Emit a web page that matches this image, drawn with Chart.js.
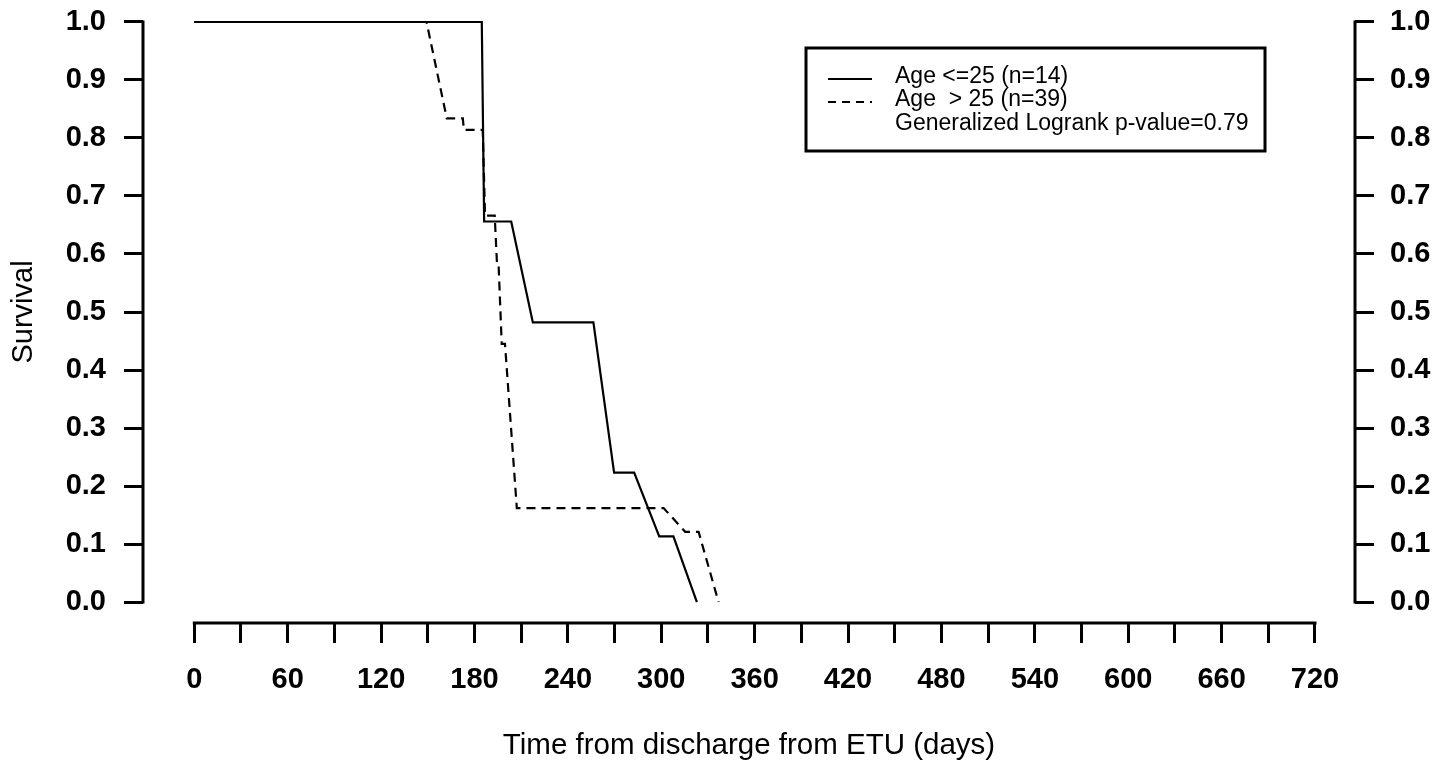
<!DOCTYPE html>
<html>
<head>
<meta charset="utf-8">
<title>Survival by age</title>
<script src="https://cdn.jsdelivr.net/npm/chart.js@4.4.1/dist/chart.umd.min.js"></script>
<style>
  html, body { margin: 0; padding: 0; background: #fff; }
  #wrap { width: 1451px; height: 767px; }
</style>
</head>
<body>
<div id="wrap">
  <canvas id="survivalCanvas" width="1451" height="767"></canvas>
</div>
<script>
// Age <= 25 (solid)
const youngDays = [0, 184.7, 186.2, 203.6, 217.5, 256.4, 269.7, 282.6, 298.7, 307.8, 322.9];
const youngSurv = [1.0, 1.0, 0.656, 0.656, 0.482, 0.482, 0.223, 0.223, 0.113, 0.113, 0.0];

// Age > 25 (dashed)
const olderDays = [0, 149.2, 162.2, 172.5, 173.2, 185.3, 186.8, 193.0, 194.5, 195.5, 197.5, 199.6, 207.2, 301.5, 315.4, 324.0, 336.8];
const olderSurv = [1.0, 1.0, 0.834, 0.834, 0.814, 0.814, 0.666, 0.666, 0.581, 0.581, 0.445, 0.445, 0.162, 0.162, 0.121, 0.121, 0.0];

const xTickValues = [0, 30, 60, 90, 120, 150, 180, 210, 240, 270, 300, 330, 360, 390, 420, 450, 480, 510, 540, 570, 600, 630, 660, 690, 720];
const yTickValues = [0, 0.1, 0.2, 0.3, 0.4, 0.5, 0.6, 0.7, 0.8, 0.9, 1.0];

const legendLabels = ['Age <=25 (n=14)', 'Age  > 25 (n=39)', 'Generalized Logrank p-value=0.79'];

const FONT = "'Liberation Sans', Arial, Helvetica, sans-serif";
Chart.defaults.font.family = FONT;
Chart.defaults.color = '#000';

const toPoints = (xs, ys) => xs.map((x, i) => ({ x, y: ys[i] }));
const setTicks = values => scale => {
  scale.ticks = values.map(value => ({ value }));
};

/**
 * Fix the size of an axis box and drop the edge padding chart.js adds for labels
 */
const fitTo = (key, size) => scale => {
  scale[key] = size;
  scale.paddingTop = 0;
  scale.paddingBottom = 0;
  scale.paddingLeft = 0;
  scale.paddingRight = 0;
};

/**
 * R style axes: the axis line only runs between the first and last tick
 */
const axisLines = {
  id: 'axisLines',
  afterDraw(chart) {
    const { ctx, chartArea, scales } = chart;
    const { x, y } = scales;
    ctx.save();
    ctx.strokeStyle = '#000';
    ctx.lineWidth = 3;
    ctx.lineCap = 'square';
    ctx.beginPath();
    ctx.moveTo(chartArea.left, y.getPixelForValue(0));
    ctx.lineTo(chartArea.left, y.getPixelForValue(1));
    ctx.moveTo(chartArea.right, y.getPixelForValue(0));
    ctx.lineTo(chartArea.right, y.getPixelForValue(1));
    ctx.moveTo(x.getPixelForValue(0), chartArea.bottom);
    ctx.lineTo(x.getPixelForValue(720), chartArea.bottom);
    ctx.stroke();
    ctx.restore();
  },
};

/**
 * Boxed legend in the top right, like the base R legend()
 */
const boxLegend = {
  id: 'boxLegend',
  afterDraw(chart) {
    const { ctx } = chart;
    const box = { left: 806, top: 48, width: 459, height: 103 };
    const rows = [77, 100, 124];
    ctx.save();
    ctx.strokeStyle = '#000';
    ctx.lineWidth = 3;
    ctx.strokeRect(box.left, box.top, box.width, box.height);

    ctx.lineWidth = 2;
    ctx.beginPath();
    ctx.moveTo(828, rows[0] + 2);
    ctx.lineTo(872, rows[0] + 2);
    ctx.stroke();
    ctx.setLineDash([8, 6]);
    ctx.beginPath();
    ctx.moveTo(828, rows[1] + 2);
    ctx.lineTo(872, rows[1] + 2);
    ctx.stroke();
    ctx.setLineDash([]);

    ctx.fillStyle = '#000';
    ctx.font = '23px ' + FONT;
    ctx.textAlign = 'left';
    ctx.textBaseline = 'middle';
    legendLabels.forEach((label, i) => ctx.fillText(label, 895, rows[i]));
    ctx.restore();
  },
};

const tickGrid = length => ({
  display: true,
  drawOnChartArea: false,
  drawTicks: true,
  tickLength: length,
  lineWidth: 3,
  color: '#000',
});

const yRange = { min: -0.0362, max: 1.0362 };

new Chart(document.getElementById('survivalCanvas').getContext('2d'), {
  type: 'line',
  data: {
    datasets: [
      {
        label: legendLabels[0],
        data: toPoints(youngDays, youngSurv),
        borderColor: '#000',
        borderWidth: 2.2,
        pointRadius: 0,
        tension: 0,
        yAxisID: 'y',
      },
      {
        label: legendLabels[1],
        data: toPoints(olderDays, olderSurv),
        borderColor: '#000',
        borderWidth: 2.2,
        borderDash: [9, 6],
        pointRadius: 0,
        tension: 0,
        yAxisID: 'y',
      },
    ],
  },
  options: {
    responsive: false,
    animation: false,
    layout: { padding: { top: 1, left: 0, right: 0, bottom: 0 } },
    plugins: {
      legend: { display: false },
      tooltip: { enabled: false },
    },
    scales: {
      x: {
        type: 'linear',
        position: 'bottom',
        min: -32.96,
        max: 745.7,
        afterBuildTicks: setTicks(xTickValues),
        afterFit: fitTo('height', 144),
        grid: tickGrid(20),
        border: { display: false },
        ticks: {
          autoSkip: false,
          maxRotation: 0,
          padding: 20,
          font: { size: 29, weight: 'bold' },
          callback: value => (value % 60 === 0 ? String(value) : ''),
        },
        title: {
          display: true,
          text: 'Time from discharge from ETU (days)',
          font: { size: 29.5 },
          padding: { top: 3, bottom: 3 },
        },
      },
      y: {
        type: 'linear',
        position: 'left',
        ...yRange,
        afterBuildTicks: setTicks(yTickValues),
        afterFit: fitTo('width', 143),
        grid: tickGrid(19),
        border: { display: false },
        ticks: {
          padding: 18,
          font: { size: 29, weight: 'bold' },
          callback: value => value.toFixed(1),
        },
        title: {
          display: true,
          text: 'Survival',
          font: { size: 29 },
          padding: { top: 7, bottom: 7 },
        },
      },
      y2: {
        type: 'linear',
        position: 'right',
        ...yRange,
        afterBuildTicks: setTicks(yTickValues),
        afterFit: fitTo('width', 96),
        grid: tickGrid(19),
        border: { display: false },
        ticks: {
          padding: 16,
          font: { size: 29, weight: 'bold' },
          callback: value => value.toFixed(1),
        },
      },
    },
  },
  plugins: [axisLines, boxLegend],
});
</script>
</body>
</html>
